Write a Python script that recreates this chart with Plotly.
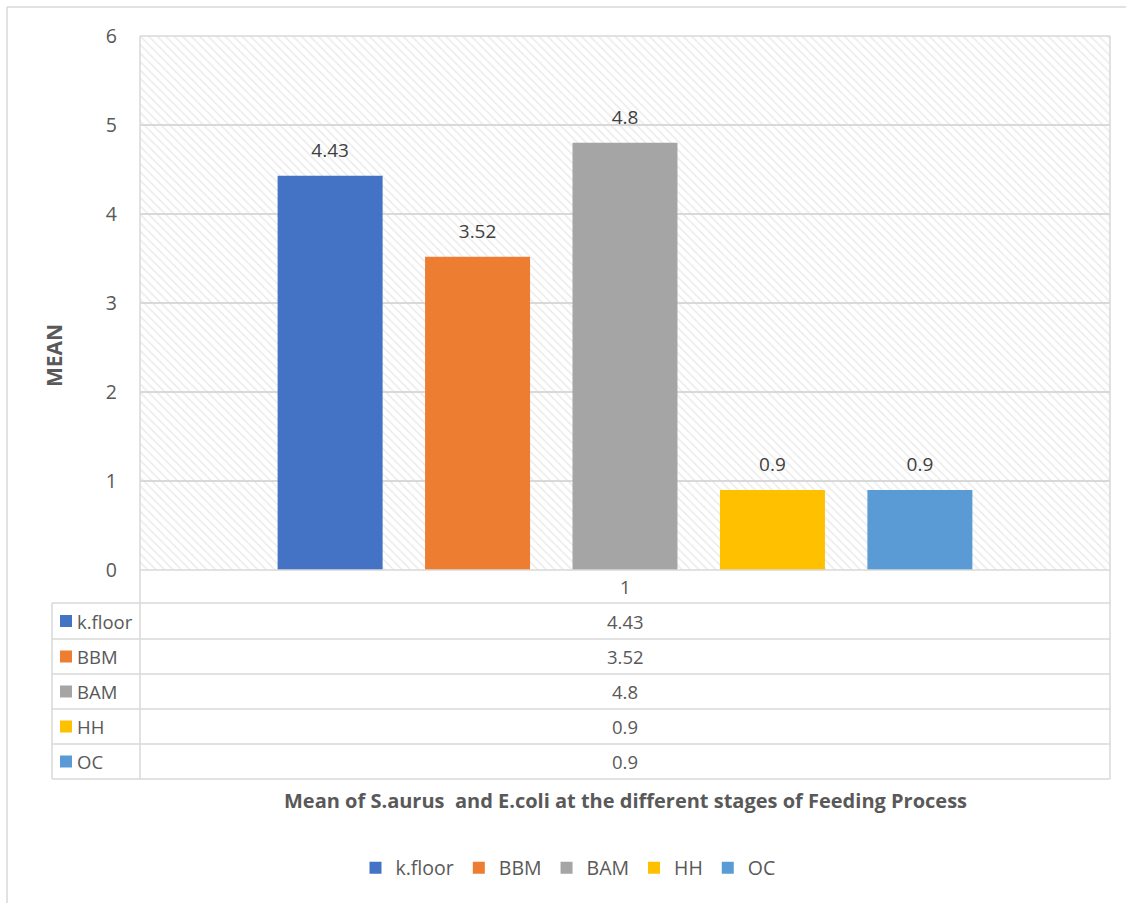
import plotly.graph_objects as go

# ---- data ----
categories = ["1"]
series_names = ["k.floor", "BBM", "BAM", "HH", "OC"]
series_values = [4.43, 3.52, 4.8, 0.9, 0.9]
series_colors = ["#4472C4", "#ED7D31", "#A5A5A5", "#FFC000", "#5B9BD5"]
y_ticks = [0, 1, 2, 3, 4, 5, 6]
y_title = "MEAN"
chart_title = "Mean of S.aurus  and E.coli at the different stages of Feeding Process"

W, H = 1126, 903
PL, PR, PT, PB = 140, 1110, 36, 570  # plot area in pixels
FONT = "Open Sans"
TXT = "#595959"
LINE = "#d9d9d9"

def px(x):
    return (x - PL) / (PR - PL)

def py(y):
    return (PB - y) / (PB - PT)

fig = go.Figure()

# hatched plot-area background
fig.add_trace(go.Bar(
    x=[0.5], y=[max(y_ticks)], width=[1], xaxis="x", yaxis="y",
    marker=dict(color="rgba(0,0,0,0)", line=dict(width=0),
                pattern=dict(shape="\\", fgcolor="#d6d6d6", bgcolor="rgba(0,0,0,0)",
                             size=6, solidity=0.25)),
    showlegend=False, hoverinfo="skip",
))

for name, val, col in zip(series_names, series_values, series_colors):
    fig.add_trace(go.Bar(
        x=categories, y=[val], name=name, xaxis="x2", yaxis="y",
        marker=dict(color=col, line=dict(width=0)),
        text=[f"<span style='font-size:19px'>{val:g}</span><br> "], textposition="outside",
        textfont=dict(family=FONT, size=10, color="#404040"),
        cliponaxis=False,
    ))

shapes = []
def hline(x0, x1, y, color=LINE, w=1.5):
    shapes.append(dict(type="line", xref="paper", yref="paper",
                       x0=px(x0), x1=px(x1), y0=py(y), y1=py(y),
                       line=dict(color=color, width=w), layer="above"))
def vline(x, y0, y1, color=LINE, w=1.5):
    shapes.append(dict(type="line", xref="paper", yref="paper",
                       x0=px(x), x1=px(x), y0=py(y0), y1=py(y1),
                       line=dict(color=color, width=w), layer="above"))

# outer chart border (left & top visible)
hline(7, 1126, 7)
vline(7, 7, 903)

# plot area border
hline(PL, PR, PT)
vline(PL, PT, 779)
vline(PR, PT, 779)

# data table
row_tops = [570, 603, 639, 674, 709, 744, 779]
hline(PL, PR, 570)
for ry in row_tops[1:]:
    hline(52, PR, ry)
vline(52, 603, 779)

TS = 18.5
annotations = []
# category row
annotations.append(dict(xref="paper", yref="paper", x=px((PL + PR) / 2), y=py((570 + 603) / 2),
                        xanchor="center", yanchor="middle",
                        text=categories[0], showarrow=False,
                        font=dict(family=FONT, size=TS, color=TXT)))
for i, (name, val, col) in enumerate(zip(series_names, series_values, series_colors)):
    top, bot = row_tops[i + 1], row_tops[i + 2]
    cy = (top + bot) / 2
    shapes.append(dict(type="rect", xref="paper", yref="paper",
                       x0=px(60), x1=px(72), y0=py(cy - 6), y1=py(cy + 6),
                       fillcolor=col, line=dict(width=0), layer="above"))
    annotations.append(dict(xref="paper", yref="paper", x=px(75), y=py(cy),
                            xanchor="left", yanchor="middle", text=name, showarrow=False,
                            font=dict(family=FONT, size=TS, color=TXT)))
    annotations.append(dict(xref="paper", yref="paper", x=px((PL + PR) / 2), y=py(cy),
                            xanchor="center", yanchor="middle",
                            text=f"{val:g}", showarrow=False,
                            font=dict(family=FONT, size=TS, color=TXT)))

# y axis title
annotations.append(dict(xref="paper", yref="paper", x=px(54), y=py(356),
                        xanchor="center", yanchor="middle",
                        text=f"<b>{y_title}</b>", textangle=-90, showarrow=False,
                        font=dict(family=FONT, size=21, color=TXT)))
# chart (axis) title
annotations.append(dict(xref="paper", yref="paper", x=px(625), y=py(800),
                        xanchor="center", yanchor="middle",
                        text=f"<b>{chart_title}</b>", showarrow=False,
                        font=dict(family=FONT, size=20, color=TXT)))

fig.update_layout(
    width=W, height=H,
    margin=dict(l=PL, r=W - PR, t=PT, b=H - PB, pad=0),
    paper_bgcolor="white", plot_bgcolor="white",
    barmode="group", bargap=0.24, bargroupgap=0.288,
    xaxis=dict(range=[0, 1], visible=False, fixedrange=True),
    xaxis2=dict(overlaying="x", visible=False, type="category"),
    yaxis=dict(range=[0, 6], tickvals=y_ticks, showgrid=True, gridcolor=LINE, gridwidth=1.5,
               zeroline=False, showline=False, ticks="", ticklabelstandoff=22,
               tickfont=dict(family=FONT, size=19.5, color=TXT)),
    showlegend=True,
    legend=dict(orientation="h", x=px(568), xanchor="center", y=py(868), yanchor="middle",
                font=dict(family=FONT, size=19.5, color=TXT), itemwidth=30,
                bgcolor="rgba(0,0,0,0)"),
    shapes=shapes, annotations=annotations,
)

fig.write_html("out.html")
